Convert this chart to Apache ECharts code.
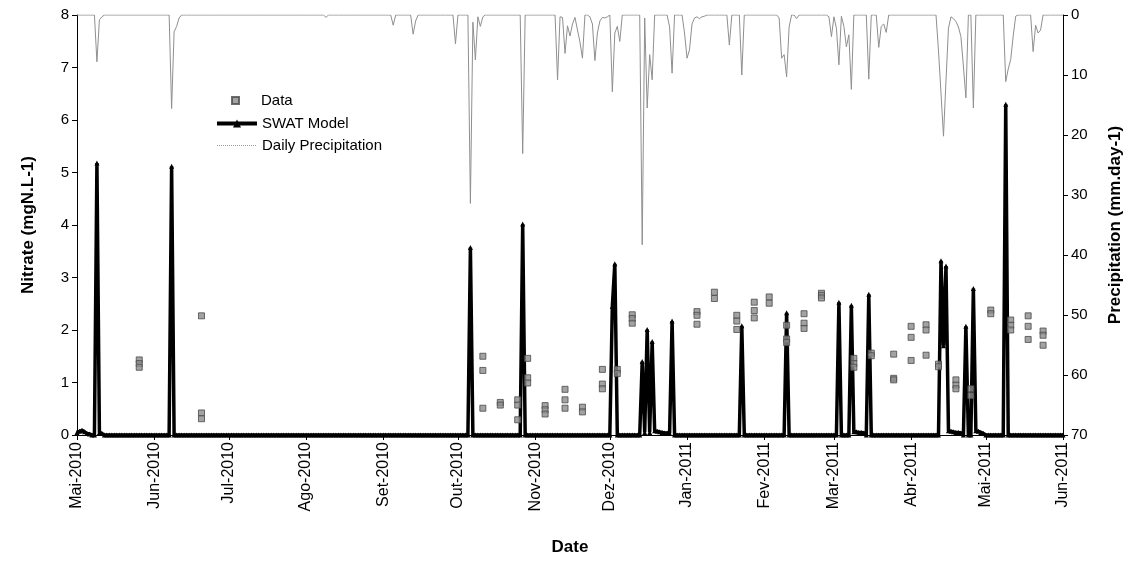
<!doctype html>
<html>
<head>
<meta charset="utf-8">
<title>Nitrate - SWAT Model</title>
<script src="https://cdn.jsdelivr.net/npm/echarts@6/dist/echarts.min.js"></script>
<style>
    html, body {margin: 0; padding: 0; background: #fff;}
    #chart {width: 1132px; height: 561px;}
</style>
</head>
<body>
<div id="chart"></div>
<script>
// axis range and month labels
var startDate = '2010-05-01';
var endDate = '2011-06-01';
var monthTicks = ['2010-05-01','2010-06-01','2010-07-01','2010-08-01','2010-09-01','2010-10-01','2010-11-01',
                  '2010-12-01','2011-01-01','2011-02-01','2011-03-01','2011-04-01','2011-05-01','2011-06-01'];
var monthLabels = ['Mai-2010','Jun-2010','Jul-2010','Ago-2010','Set-2010','Out-2010','Nov-2010',
                   'Dez-2010','Jan-2011','Fev-2011','Mar-2011','Abr-2011','Mai-2011','Jun-2011'];

// SWAT model, days where it is above 0
var modelDates = ['2010-05-01','2010-05-02','2010-05-03','2010-05-04','2010-05-05','2010-05-06','2010-05-09','2010-05-10','2010-05-11',
    '2010-06-08','2010-10-06','2010-10-27','2010-12-02','2010-12-03','2010-12-14','2010-12-15','2010-12-16','2010-12-17','2010-12-18',
    '2010-12-19','2010-12-20','2010-12-21','2010-12-22','2010-12-23','2010-12-24','2010-12-25','2010-12-26',
    '2011-01-23','2011-02-10','2011-03-03','2011-03-08','2011-03-09','2011-03-10','2011-03-11','2011-03-12','2011-03-13','2011-03-15',
    '2011-04-13','2011-04-14','2011-04-15','2011-04-16','2011-04-17','2011-04-18','2011-04-19','2011-04-20','2011-04-21','2011-04-23',
    '2011-04-26','2011-04-27','2011-04-28','2011-04-29','2011-04-30','2011-05-09'];
var modelValues = [0.05,0.07,0.09,0.06,0.03,0.02,5.18,0.05,0.03,
    5.12,3.57,4.02,2.45,3.26,1.40,0.05,2.01,0.05,1.78,
    0.08,0.07,0.06,0.05,0.04,0.04,0.03,2.17,
    2.08,2.33,2.53,2.47,0.06,0.06,0.05,0.05,0.04,2.68,
    3.32,1.70,3.22,0.08,0.07,0.06,0.05,0.05,0.04,2.07,
    2.79,0.08,0.07,0.05,0.03,6.30];

// measured nitrate
var obsDates = ['2010-05-26','2010-05-26','2010-05-26','2010-06-20','2010-06-20','2010-06-20',
    '2010-10-11','2010-10-11','2010-10-11','2010-10-18','2010-10-18','2010-10-25','2010-10-25','2010-10-25',
    '2010-10-29','2010-10-29','2010-10-29','2010-11-05','2010-11-05','2010-11-05','2010-11-13','2010-11-13','2010-11-13',
    '2010-11-20','2010-11-20','2010-11-28','2010-11-28','2010-11-28','2010-12-04','2010-12-04',
    '2010-12-10','2010-12-10','2010-12-10','2011-01-05','2011-01-05','2011-01-05','2011-01-12','2011-01-12',
    '2011-01-21','2011-01-21','2011-01-21','2011-01-28','2011-01-28','2011-01-28','2011-02-03','2011-02-03',
    '2011-02-10','2011-02-10','2011-02-10','2011-02-17','2011-02-17','2011-02-17','2011-02-24','2011-02-24','2011-02-24',
    '2011-03-09','2011-03-09','2011-03-09','2011-03-16','2011-03-16','2011-03-25','2011-03-25','2011-03-25',
    '2011-04-01','2011-04-01','2011-04-01','2011-04-07','2011-04-07','2011-04-07','2011-04-12','2011-04-12',
    '2011-04-19','2011-04-19','2011-04-19','2011-04-25','2011-04-25','2011-05-03','2011-05-03',
    '2011-05-11','2011-05-11','2011-05-11','2011-05-18','2011-05-18','2011-05-18','2011-05-24','2011-05-24','2011-05-24'];
var obsValues = [1.43,1.36,1.29,2.27,0.42,0.31,
    1.50,1.23,0.51,0.62,0.57,0.67,0.57,0.29,
    1.46,1.09,0.99,0.56,0.48,0.40,0.87,0.67,0.51,
    0.53,0.44,1.25,0.97,0.88,1.25,1.17,
    2.29,2.22,2.13,2.35,2.28,2.11,2.72,2.60,
    2.28,2.17,2.01,2.53,2.37,2.23,2.63,2.51,
    2.09,1.83,1.76,2.31,2.13,2.03,2.70,2.66,2.61,
    1.46,1.36,1.29,1.56,1.51,1.54,1.08,1.05,
    2.07,1.86,1.42,2.10,2.00,1.52,1.35,1.30,
    1.05,0.95,0.88,0.88,0.75,2.38,2.31,
    2.19,2.09,2.00,2.27,2.07,1.82,1.98,1.90,1.71];

// daily precipitation, days with rain
var rainDates = ['2010-05-09','2010-05-10','2010-05-11','2010-06-08','2010-06-09','2010-06-10','2010-06-11',
    '2010-08-09','2010-09-05','2010-09-13','2010-09-14','2010-09-30',
    '2010-10-06','2010-10-07','2010-10-08','2010-10-09','2010-10-10','2010-10-11','2010-10-27',
    '2010-11-10','2010-11-11','2010-11-12','2010-11-13','2010-11-14','2010-11-15','2010-11-16','2010-11-17','2010-11-18','2010-11-19','2010-11-20',
    '2010-11-23','2010-11-24','2010-11-25','2010-11-26','2010-11-27','2010-11-28','2010-11-29','2010-11-30',
    '2010-12-02','2010-12-03','2010-12-04','2010-12-05','2010-12-14','2010-12-15','2010-12-16','2010-12-17','2010-12-18',
    '2010-12-25','2010-12-26','2010-12-31','2011-01-01','2011-01-02','2011-01-03','2011-01-04','2011-01-05','2011-01-06','2011-01-07','2011-01-08',
    '2011-01-18','2011-01-23','2011-02-07','2011-02-08','2011-02-09','2011-02-10','2011-02-11','2011-02-14',
    '2011-02-27','2011-02-28','2011-03-01','2011-03-02','2011-03-03','2011-03-04','2011-03-05','2011-03-06','2011-03-07','2011-03-08',
    '2011-03-15','2011-03-19','2011-03-20','2011-03-21','2011-03-22',
    '2011-04-12','2011-04-13','2011-04-14','2011-04-15','2011-04-16','2011-04-17','2011-04-18','2011-04-19','2011-04-20','2011-04-21','2011-04-22','2011-04-23','2011-04-26',
    '2011-05-09','2011-05-10','2011-05-11','2011-05-12','2011-05-13','2011-05-20','2011-05-21','2011-05-22','2011-05-23'];
var rainValues = [7.8,0.8,0.3,15.6,2.8,1.9,0.5,
    0.4,1.7,3.2,1.0,4.8,
    31.4,1.2,7.5,0.3,1.9,0.3,23.1,
    10.8,0.3,0.4,6.4,1.8,3.5,1.5,0.4,2.5,4.5,7.2,
    0.3,1.5,7.6,3.0,1.0,0.4,0.5,0.3,
    12.8,3.0,1.9,4.4,38.3,0.5,15.5,6.6,10.8,
    2.0,9.7,3.0,7.2,5.8,1.5,0.5,0.3,0.6,0.3,0.2,
    5.0,10.0,0.5,7.2,6.6,10.3,2.0,0.6,
    0.3,3.6,0.3,2.2,8.3,0.2,1.9,5.3,3.3,12.4,
    10.7,5.4,1.9,1.5,2.9,
    6.0,13.0,20.2,11.0,2.2,0.3,0.6,1.1,2.0,3.6,8.5,13.8,15.5,
    11.1,9.0,7.4,3.5,0.2,6.1,1.7,3.0,2.5];

function dayOf(s) {
    var p = s.split('-');
    return (Date.UTC(+p[0], +p[1] - 1, +p[2]) - Date.UTC(2010, 4, 1)) / 864e5;
}

var lastDay = dayOf(endDate);
var tickDays = monthTicks.map(dayOf);

function daily(dates, values) {
    var byDay = {};
    dates.forEach(function (d, i) { byDay[dayOf(d)] = values[i]; });
    var out = [];
    for (var d = dayOf(startDate); d <= lastDay; d++) {
        out.push([d, byDay[d] !== undefined ? byDay[d] : 0]);
    }
    return out;
}

var modelData = daily(modelDates, modelValues);
var rainData = daily(rainDates, rainValues);
var obsData = obsDates.map(function (d, i) { return [dayOf(d), obsValues[i]]; });

var font = 'Liberation Sans, Arial, sans-serif';
var axisCommon = {
    axisLine: {show: true, lineStyle: {color: '#000', width: 1}},
    axisTick: {show: true, inside: false, length: 5, lineStyle: {color: '#000'}},
    splitLine: {show: false},
    axisLabel: {color: '#000', fontSize: 15, fontFamily: font}
};

var myChart = echarts.init(document.getElementById('chart'));
var option = {
    animation: false,
    backgroundColor: '#fff',
    grid: {left: 77, right: 69, top: 15, bottom: 124},
    legend: [
        {
            data: ['Data'],
            left: 226, top: 88,
            itemWidth: 7, itemHeight: 7,
            selectedMode: false,
            textStyle: {fontSize: 15, fontFamily: font, color: '#000', padding: [0, 0, 0, 17]}
        },
        {
            data: [
                {name: 'SWAT Model', lineStyle: {width: 4, color: '#000'}},
                {name: 'Daily Precipitation', itemStyle: {opacity: 0}, lineStyle: {type: 'dotted', color: '#9a9a9a', width: 1}}
            ],
            orient: 'vertical',
            left: 210, top: 111,
            itemWidth: 40, itemHeight: 10, itemGap: 7,
            selectedMode: false,
            textStyle: {fontSize: 15, fontFamily: font, color: '#000'}
        }
    ],
    xAxis: {
        type: 'value', min: 0, max: lastDay,
        name: 'Date', nameLocation: 'middle', nameGap: 104,
        nameTextStyle: {fontSize: 17, fontWeight: 'bold', fontFamily: font, color: '#000'},
        axisLine: axisCommon.axisLine,
        axisTick: {show: true, inside: false, length: 5, lineStyle: {color: '#000'}, customValues: tickDays},
        axisLabel: {
            color: '#000', fontSize: 16, fontFamily: font, rotate: 90, margin: 7,
            customValues: tickDays,
            formatter: function (v) {
                var i = tickDays.indexOf(v);
                return i >= 0 ? monthLabels[i] : '';
            }
        },
        splitLine: {show: false}
    },
    yAxis: [
        {
            type: 'value', min: 0, max: 8, interval: 1, position: 'left',
            name: 'Nitrate (mgN.L-1)', nameLocation: 'middle', nameGap: 40, nameRotate: 90,
            nameTextStyle: {fontSize: 17, fontWeight: 'bold', fontFamily: font, color: '#000'},
            axisLine: axisCommon.axisLine, axisTick: axisCommon.axisTick,
            splitLine: axisCommon.splitLine, axisLabel: axisCommon.axisLabel
        },
        {
            type: 'value', min: 0, max: 70, interval: 10, position: 'right', inverse: true,
            name: 'Precipitation (mm.day-1)', nameLocation: 'middle', nameGap: 44, nameRotate: 90,
            nameTextStyle: {fontSize: 17, fontWeight: 'bold', fontFamily: font, color: '#000'},
            axisLine: axisCommon.axisLine, axisTick: axisCommon.axisTick,
            splitLine: axisCommon.splitLine, axisLabel: axisCommon.axisLabel
        }
    ],
    series: [
        {
            name: 'Daily Precipitation', type: 'line', yAxisIndex: 1,
            data: rainData, symbol: 'none', z: 1,
            lineStyle: {color: '#8f8f8f', width: 1},
            itemStyle: {color: '#8f8f8f'}
        },
        {
            name: 'SWAT Model', type: 'line', yAxisIndex: 0,
            data: modelData, symbol: 'triangle', symbolSize: 5, showAllSymbol: true, z: 3,
            lineStyle: {color: '#000', width: 3.5},
            itemStyle: {color: '#000'}
        },
        {
            name: 'Data', type: 'scatter', yAxisIndex: 0,
            data: obsData, symbol: 'rect', symbolSize: 6, z: 4,
            itemStyle: {color: '#8c8c8c', borderColor: '#4a4a4a', borderWidth: 1}
        }
    ]
};

myChart.setOption(option);
</script>
</body>
</html>
